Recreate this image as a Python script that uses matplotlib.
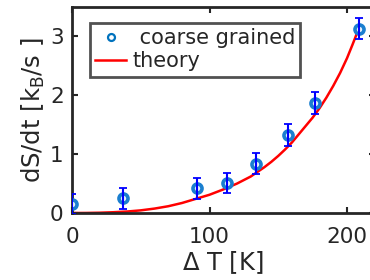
import matplotlib
matplotlib.use("Agg")
import matplotlib.pyplot as plt
from matplotlib.lines import Line2D

# data
dT_data = [0, 37, 91, 113, 134, 157, 177, 208.5]
rate_data = [0.16, 0.25, 0.42, 0.51, 0.84, 1.33, 1.87, 3.13]
rate_err = [0.17, 0.18, 0.18, 0.17, 0.18, 0.19, 0.18, 0.18]

dT_theory = [0, 10, 20, 30, 40, 50, 60, 70, 80, 90, 100, 110, 120, 130, 140,
             145, 150, 155, 160, 165, 170, 175, 180, 185, 190, 195, 200, 204, 208]
rate_theory = [0, 0.001, 0.005, 0.013, 0.025, 0.045, 0.075, 0.115, 0.17, 0.24,
               0.31, 0.40, 0.50, 0.62, 0.78, 0.87, 0.97, 1.08, 1.20, 1.34,
               1.48, 1.62, 1.78, 1.96, 2.16, 2.38, 2.63, 2.86, 3.10]

xticks = [0, 100, 200]
yticks = [0, 1, 2, 3]

dark = "#262626"
plt.rcParams["font.family"] = ["DejaVu Sans"]
fs = 15.5
lfs = 17.5

fig = plt.figure(figsize=(3.7, 2.8), dpi=100)
ax = fig.add_axes([72 / 370, 67 / 280, 302.5 / 370, 206 / 280])

ax.plot(dT_theory, rate_theory, color="red", lw=1.8, zorder=2)
ax.plot(dT_data, rate_data, ls="none", marker="o", ms=6.5, mec="#1a7fcf",
        mfc="#e8f2fb", mew=2.6, zorder=3)
ax.errorbar(dT_data, rate_data, yerr=rate_err, fmt="none", ecolor="blue",
            elinewidth=1.5, capsize=3, capthick=1.3, zorder=4)

ax.set_xlim(0, 220)
ax.set_ylim(0, 3.5)
ax.set_xticks(xticks)
ax.set_yticks(yticks)
ax.tick_params(direction="in", length=4, width=1.5, color=dark,
               top=True, right=True, labelcolor=dark, labelsize=fs)
ax.tick_params(axis="x", pad=10)
ax.tick_params(axis="y", pad=6)
for s in ax.spines.values():
    s.set_linewidth(2)
    s.set_color(dark)

ax.set_xlabel(r"$\Delta$ T [K]", color=dark, fontsize=lfs, labelpad=2)
ax.set_ylabel(r"dS/dt [k$_\mathregular{B}$/s ]", color=dark, fontsize=lfs,
              labelpad=2)

handles = [
    Line2D([], [], ls="none", marker="o", ms=5, mec="#0072BD", mfc="white", mew=1.6),
    Line2D([], [], color="red", lw=1.8),
]
leg = ax.legend(handles, [" coarse grained", "theory"], loc="upper left",
                fontsize=15, frameon=True, fancybox=False, handlelength=1.5,
                handletextpad=0.3, borderpad=0.25, labelspacing=0.15,
                borderaxespad=0)
leg.set_bbox_to_anchor((90 / 370, 1 - 23 / 280), transform=fig.transFigure)
fr = leg.get_frame()
fr.set_edgecolor(dark)
fr.set_linewidth(2)
for t in leg.get_texts():
    t.set_color(dark)

fig.savefig("out.png", dpi=100)
